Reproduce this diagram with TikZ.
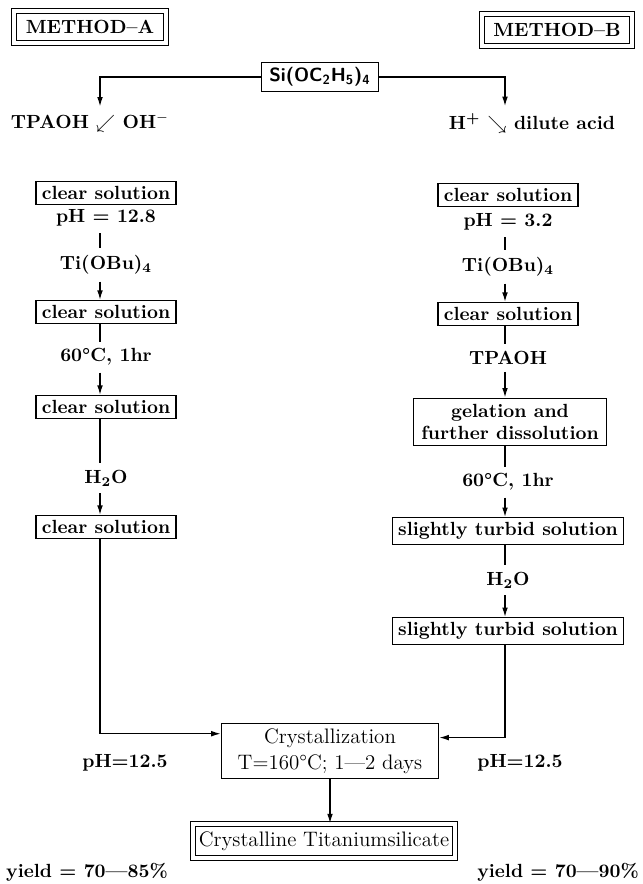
\documentclass[tikz,border=0pt]{standalone}
\usetikzlibrary{arrows.meta}

\begin{document}
\begin{tikzpicture}[x=0.525pt,y=-0.525pt,line width=0.7pt,
    every node/.style={font=\bfseries},
    box/.style={draw,line width=0.7pt,inner xsep=3pt,inner ysep=2.5pt},
    dbox/.style={draw,double,double distance=2pt,line width=0.6pt},
    rm/.style={font=\fontsize{11}{13.5}\selectfont},
    >={Latex[length=5pt,width=3pt]}]
  \useasboundingbox (0,0) rectangle (642,884);

  % headings and start
  \node[dbox,inner xsep=6pt,inner ysep=5pt] (methA) at (90,27) {METHOD--A};
  \node[dbox,inner xsep=6pt,inner ysep=5pt] (methB) at (557,30) {METHOD--B};
  \node[box,font=\sffamily\bfseries,inner xsep=4pt] (si) at (320,77) {Si(OC\textsubscript{2}H\textsubscript{5})\textsubscript{4}};
  \node (tpaoh) at (90,123) {TPAOH $\swarrow$ OH\textsuperscript{$-$}};
  \node (hplus) at (532,123) {H\textsuperscript{+} $\searrow$ dilute acid};
  \coordinate (colA) at (100,0);
  \coordinate (colB) at (505,0);
  \draw[->] (si.west) -| (tpaoh.north -| colA);
  \draw[->] (si.east) -| (hplus.north -| colB);

  % method A
  \node[box] (cA1) at (106,193) {clear solution};
  \node (phA) at (106,218) {pH = 12.8};
  \node (tiA) at (106,265) {Ti(OBu)\textsubscript{4}};
  \node[box] (cA2) at (106,312) {clear solution};
  \node (tA) at (106,357) {60\textdegree C, 1hr};
  \node[box] (cA3) at (106,407) {clear solution};
  \node (wA) at (106,478) {H\textsubscript{2}O};
  \node[box] (cA4) at (106,527) {clear solution};
  \draw (phA.south -| colA) -- (tiA.north -| colA);
  \draw[->] (tiA.south -| colA) -- (cA2.north -| colA);
  \draw (cA2.south -| colA) -- (tA.north -| colA);
  \draw[->] (tA.south -| colA) -- (cA3.north -| colA);
  \draw (cA3.south -| colA) -- (wA.north -| colA);
  \draw[->] (wA.south -| colA) -- (cA4.north -| colA);

  % method B
  \node[box] (cB1) at (508,195) {clear solution};
  \node (phB) at (508,222) {pH = 3.2};
  \node (tiB) at (508,267) {Ti(OBu)\textsubscript{4}};
  \node[box] (cB2) at (508,314) {clear solution};
  \node (tpB) at (508,358) {TPAOH};
  \node[box,align=center,inner xsep=4pt,inner ysep=3pt] (gel) at (510,422) {gelation and\\further dissolution};
  \node (tB) at (508,482) {60\textdegree C, 1hr};
  \node[box] (sB1) at (508,531) {slightly turbid solution};
  \node (wB) at (508,580) {H\textsubscript{2}O};
  \node[box] (sB2) at (508,631) {slightly turbid solution};
  \draw (phB.south -| colB) -- (tiB.north -| colB);
  \draw[->] (tiB.south -| colB) -- (cB2.north -| colB);
  \draw (cB2.south -| colB) -- (tpB.north -| colB);
  \draw[->] (tpB.south -| colB) -- (gel.north -| colB);
  \draw (gel.south -| colB) -- (tB.north -| colB);
  \draw[->] (tB.south -| colB) -- (sB1.north -| colB);
  \draw (sB1.south -| colB) -- (wB.north -| colB);
  \draw[->] (wB.south -| colB) -- (sB2.north -| colB);

  % crystallization
  \node[box,rm,align=center,minimum width=114pt,minimum height=29pt] (crys) at (330,751)
    {Crystallization\\T=160\textdegree C; 1---2 days};
  \node (phL) at (125,763) {pH=12.5};
  \node (phR) at (520,763) {pH=12.5};
  \draw[->] (cA4.south -| colA) |- (crys.171);
  \draw[->] (sB2.south -| colB) |- (crys.7);
  \node[dbox,rm,inner xsep=3pt,inner ysep=4pt] (prod) at (324,841) {Crystalline Titaniumsilicate};
  \draw[->] (crys.south) -- (crys.south |- prod.north);
  \node (yA) at (87,872) {yield = 70---85\%};
  \node (yB) at (558,872) {yield = 70---90\%};
\end{tikzpicture}
\end{document}
